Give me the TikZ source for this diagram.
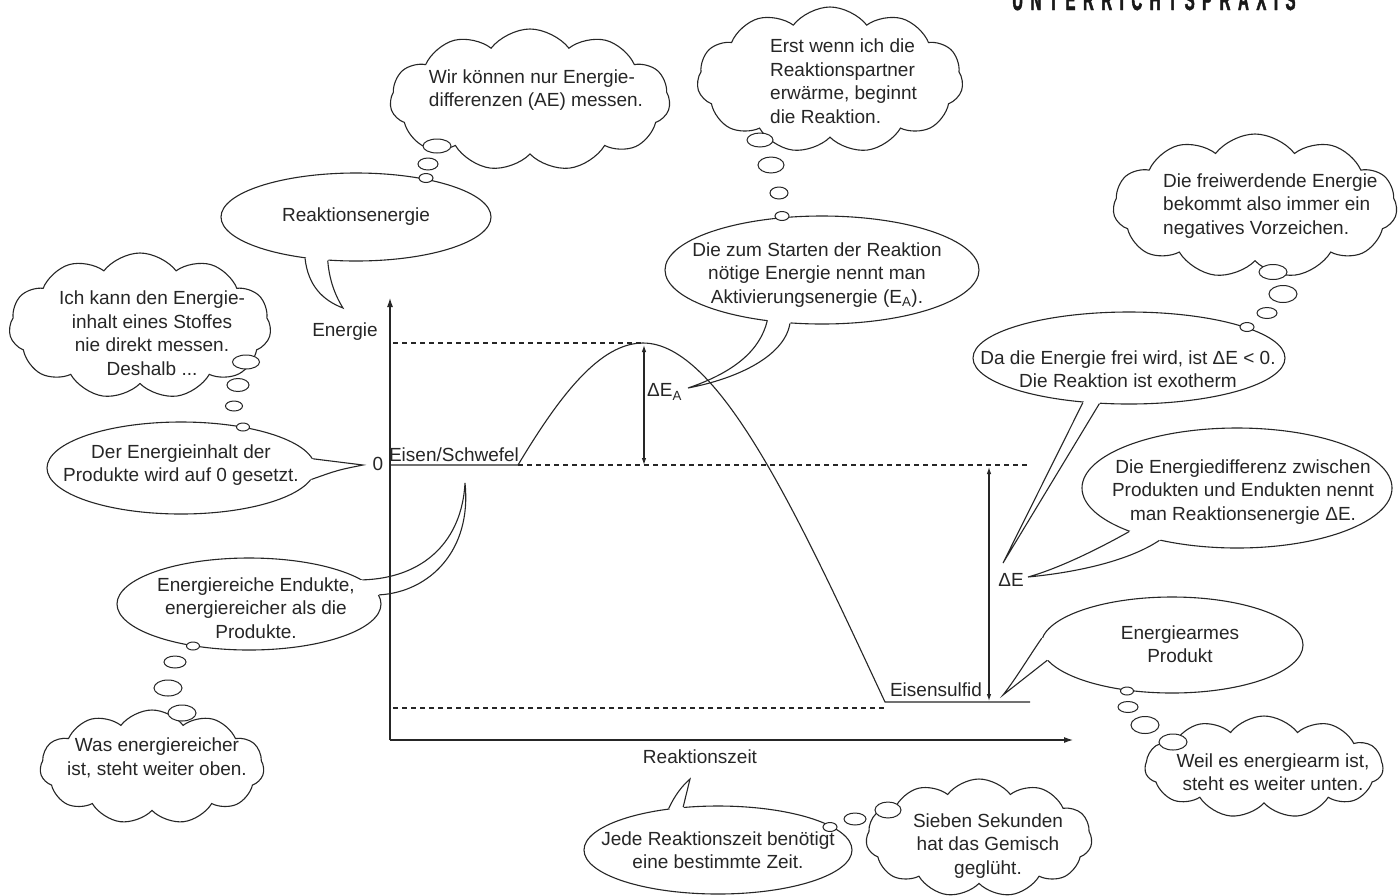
\documentclass[tikz,border=0pt]{standalone}
\usepackage{fontspec}
\setmainfont{Liberation Sans}
\newfontfamily\hdrfont{Liberation Sans}[FakeStretch=0.5,LetterSpace=25,FakeBold=1.5]
\usetikzlibrary{shapes.geometric,shapes.symbols,calc,arrows.meta}
\newcommand\speechtail[4]{%
  \fill[white] ($(#1.center)!0.85!(#1.#2)$) -- (#1.#2) #3 (#1.#4) -- ($(#1.center)!0.85!(#1.#4)$) -- cycle;
  \draw[ln] (#1.#2) #3 (#1.#4);}
\tikzset{
  ln/.style={line width=1.1pt, draw=black!85},
  txt/.style={font=\fontsize{19}{23.5}\selectfont, text=black!85, inner sep=0pt},
  speech/.style={ellipse, draw=black!85, line width=1.1pt, fill=white, inner sep=0pt},
  thought/.style={ellipse, draw=black!85, line width=1pt, fill=white, inner sep=0pt},
  puffy/.style={cloud, draw=black!85, line width=1.1pt, fill=white, cloud puffs=11, cloud puff arc=105, cloud ignores aspect, inner sep=0pt},
  dashedline/.style={ln, dash pattern=on 5pt off 4pt},
  axisarrow/.style={ln, -{Latex[length=9pt,width=6pt]}},
  dblarrow/.style={ln, {Latex[length=7pt,width=4.5pt]}-{Latex[length=7pt,width=4.5pt]}},
}
\begin{document}
\begin{tikzpicture}[x=1pt,y=-1pt]
\useasboundingbox (0,0) rectangle (1399,895);
\fill[white] (0,0) rectangle (1399,895);

% header (cut at top edge)
\node[anchor=base west, inner sep=0pt, text=black!90, font=\hdrfont\bfseries\fontsize{30}{30}\selectfont] (hdr) at (1012,10) {UNTERRICHTSPRAXIS};

% ---------- clouds ----------
\node[puffy, minimum width=280, minimum height=142] (cA) at (530,100) {};
\node[puffy, minimum width=262, minimum height=146] (cC) at (140,326) {};
\node[puffy, minimum width=224, minimum height=114] (cF) at (152,767) {};
\node[puffy, minimum width=266, minimum height=146] (cG) at (830,80) {};
\node[puffy, minimum width=284, minimum height=144] (cI) at (1255,206) {};
\node[puffy, minimum width=238, minimum height=102] (cM) at (1264,767) {};
\node[puffy, minimum width=226, minimum height=118] (cO) at (979,838) {};

% ---------- speech ellipses ----------
\node[speech, minimum width=270, minimum height=88] (eB) at (356,217) {};
\node[speech, minimum width=268, minimum height=92] (eD) at (181,468) {};
\node[speech, minimum width=264, minimum height=92] (eE) at (249,604) {};
\node[speech, minimum width=314, minimum height=108] (eH) at (822,270) {};
\node[speech, minimum width=312, minimum height=92] (eJ) at (1129,358) {};
\node[speech, minimum width=310, minimum height=120] (eK) at (1237,488) {};
\node[speech, minimum width=262, minimum height=96] (eL) at (1172,645) {};
\node[speech, minimum width=268, minimum height=88] (eN) at (718,850) {};

% ---------- tails ----------
\coordinate (tB) at (343,308);
\speechtail{eB}{219}{.. controls (308,285) and (322,300) .. (tB) .. controls (333,292) and (329,276) ..}{237}
\coordinate (tD) at (363,465);
\speechtail{eD}{4}{.. controls (338,462) .. (tD) .. controls (338,470) ..}{355}
\coordinate (tE) at (465,483);
\speechtail{eE}{12}{.. controls (425,578) and (462,540) .. (tE) .. controls (472,550) and (430,592) ..}{4}
\coordinate (tH) at (688,388);
\speechtail{eH}{223}{.. controls (760,350) and (735,372) .. (tH) .. controls (740,378) and (785,355) ..}{239}
\coordinate (tJ) at (1003,563);
\speechtail{eJ}{224}{-- (tJ) --}{237}
\coordinate (tK) at (1028,577);
\speechtail{eK}{202}{.. controls (1100,548) and (1060,568) .. (tK) .. controls (1080,572) and (1130,560) ..}{214}
\coordinate (tL) at (1003,695);
\speechtail{eL}{177}{.. controls (1030,655) and (1015,680) .. (tL) --}{187}
\coordinate (tN) at (690,779);
\speechtail{eN}{140}{.. controls (675,795) and (682,786) .. (tN) --}{129}

% ---------- thought bubbles ----------
\node[thought, minimum width=28, minimum height=14] (bA1) at (437,146) {};
\node[thought, minimum width=20, minimum height=12] (bA2) at (428,164) {};
\node[thought, minimum width=14, minimum height=9] (bA3) at (426,178) {};

\node[thought, minimum width=27, minimum height=14] (bC1) at (246,362) {};
\node[thought, minimum width=22, minimum height=13] (bC2) at (238,385) {};
\node[thought, minimum width=17, minimum height=10] (bC3) at (234,406) {};
\node[thought, minimum width=13, minimum height=8] (bC4) at (243,427) {};

\node[thought, minimum width=13, minimum height=8] (bE1) at (193,646) {};
\node[thought, minimum width=22, minimum height=12] (bE2) at (175,662) {};
\node[thought, minimum width=28, minimum height=16] (bE3) at (168,688) {};
\node[thought, minimum width=28, minimum height=16] (bE4) at (182,713) {};

\node[thought, minimum width=26, minimum height=14] (bG1) at (760,140) {};
\node[thought, minimum width=26, minimum height=16] (bG2) at (771,165) {};
\node[thought, minimum width=18, minimum height=12] (bG3) at (779,193) {};
\node[thought, minimum width=14, minimum height=9] (bG4) at (782,216) {};

\node[thought, minimum width=28, minimum height=15] (bI1) at (1273,272) {};
\node[thought, minimum width=28, minimum height=17] (bI2) at (1283,294) {};
\node[thought, minimum width=20, minimum height=11] (bI3) at (1267,313) {};
\node[thought, minimum width=14, minimum height=9] (bI4) at (1247,327) {};

\node[thought, minimum width=13, minimum height=8] (bL1) at (1127,691) {};
\node[thought, minimum width=20, minimum height=11] (bL2) at (1128,707) {};
\node[thought, minimum width=28, minimum height=17] (bL3) at (1145,725) {};
\node[thought, minimum width=28, minimum height=16] (bL4) at (1173,742) {};

\node[thought, minimum width=14, minimum height=9] (bN1) at (830,827) {};
\node[thought, minimum width=22, minimum height=12] (bN2) at (855,819) {};
\node[thought, minimum width=26, minimum height=16] (bN3) at (888,810) {};

% ---------- texts in clouds / ellipses ----------
\node[txt, align=left] (tA) at (536,90) {Wir können nur Energie-\\differenzen (AE) messen.};
\node[txt] (tBt) at (eB.center) {Reaktionsenergie};
\node[txt, align=center] (tC) at (152,333) {Ich kann den Energie-\\inhalt eines Stoffes\\nie direkt messen.\\Deshalb ...};
\node[txt, align=center] (tDt) at (181,465) {Der Energieinhalt der\\Produkte wird auf 0 gesetzt.};
\node[txt, align=center] (tEt) at (256,608) {Energiereiche Endukte,\\energiereicher als die\\Produkte.};
\node[txt, align=center] (tF) at (157,758) {Was energiereicher\\ist, steht weiter oben.};
\node[txt, align=left, anchor=west] (tG) at (770,81) {Erst wenn ich die\\Reaktionspartner\\erwärme, beginnt\\die Reaktion.};
\node[txt, align=center] (tHt) at (817,275) {Die zum Starten der Reaktion\\nötige Energie nennt man\\Aktivierungsenergie (E\textsubscript{A}).};
\node[txt, align=left, anchor=west] (tI) at (1163,206) {Die freiwerdende Energie\\bekommt also immer ein\\negatives Vorzeichen.};
\node[txt, align=center] (tJt) at (1128,369) {Da die Energie frei wird, ist ΔE < 0.\\Die Reaktion ist exotherm};
\node[txt, align=center] (tKt) at (1243,492) {Die Energiedifferenz zwischen\\Produkten und Endukten nennt\\man Reaktionsenergie ΔE.};
\node[txt, align=center] (tLt) at (1180,644) {Energiearmes\\Produkt};
\node[txt, align=center] (tM) at (1273,772) {Weil es energiearm ist,\\steht es weiter unten.};
\node[txt, align=center] (tNt) at (718,850) {Jede Reaktionszeit benötigt\\eine bestimmte Zeit.};
\node[txt, align=center] (tO) at (988,846) {Sieben Sekunden\\hat das Gemisch\\geglüht.};

% ---------- energy diagram ----------
\coordinate (O) at (390,740);
\coordinate (yTop) at (390,298);
\coordinate (xEnd) at (1073,740);
\coordinate (es0) at (390,465);
\coordinate (es1) at (518,465);
\coordinate (peak) at (643,343);
\coordinate (fs0) at (885,702);
\coordinate (fs1) at (1030,702);
\coordinate (dTop0) at (393,343);
\coordinate (dMid1) at (1030,465);
\coordinate (dLow0) at (393,708);
\coordinate (dLow1) at (885,708);
\coordinate (aA0) at (644,345);
\coordinate (aA1) at (644,465);
\coordinate (aE0) at (989,467);
\coordinate (aE1) at (989,701);

\draw[axisarrow] (O) -- (yTop);
\draw[axisarrow] (O) -- (xEnd);
\draw[ln] (es0) -- (es1) .. controls (560,395) and (600,343) .. (peak) .. controls (720,343) and (800,520) .. (fs0) -- (fs1);
\draw[dashedline] (dTop0) -- (peak);
\draw[dashedline] (es1) -- (dMid1);
\draw[dashedline] (dLow0) -- (dLow1);
\draw[dblarrow] (aA0) -- (aA1);
\draw[dblarrow] (aE0) -- (aE1);

\node[txt] (lEnergie) at (345,332) {Energie};
\node[txt] (lZero) at (378,464) {0};
\node[txt] (lES) at (454,455) {Eisen/Schwefel};
\node[txt] (lFS) at (936,690) {Eisensulfid};
\node[txt, anchor=west] (lEA) at (647,392) {ΔE\textsubscript{A}};
\node[txt] (lE) at (1011,580) {ΔE};
\node[txt] (lZeit) at (700,757) {Reaktionszeit};
\end{tikzpicture}
\end{document}
